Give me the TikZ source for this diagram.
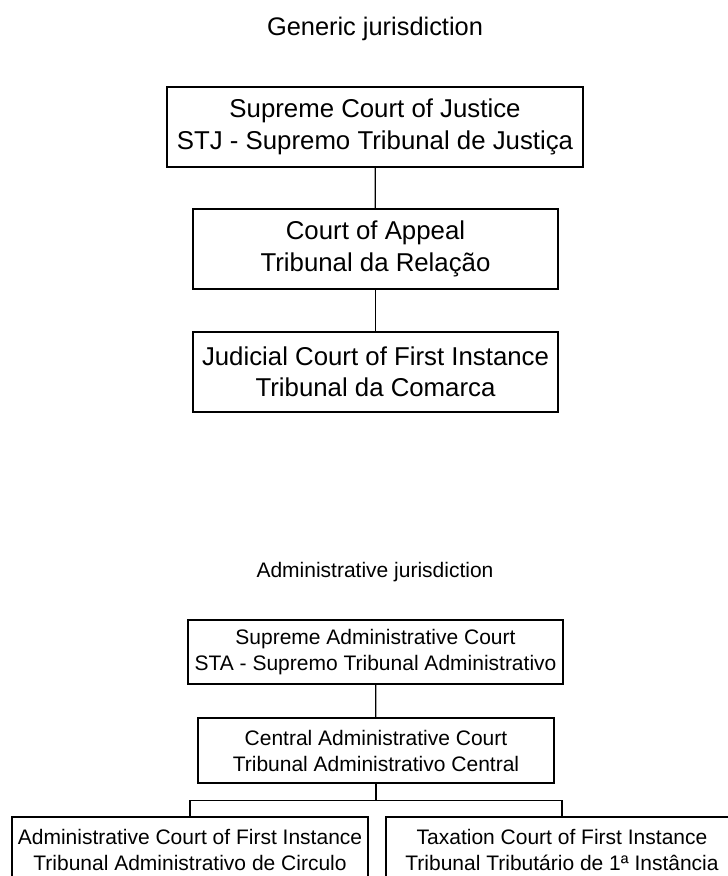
\documentclass[tikz,border=0pt]{standalone}
\usepackage{fontspec}
\setmainfont{Liberation Sans}
\usetikzlibrary{positioning}

\tikzset{
  court/.style={draw, line width=1.2pt, align=center, inner sep=0pt,
    font=\fontsize{25.8}{31.5}\selectfont},
  admcourt/.style={draw, line width=1.2pt, align=center, inner sep=0pt,
    font=\fontsize{21}{26}\selectfont},
  link/.style={line width=1.2pt}
}

\begin{document}
\begin{tikzpicture}[x=1pt,y=-1pt]
    \useasboundingbox (0,0) rectangle (728,876);

    % Generic jurisdiction
    \node[anchor=base, font=\fontsize{25.4}{30}\selectfont] (gentitle) at (375,35) {Generic jurisdiction};

    \node[court, minimum width=416pt, minimum height=80pt] (stj) at (375,127)
        {Supreme Court of Justice\\STJ - Supremo Tribunal de Justiça};
    \node[court, minimum width=365pt, minimum height=80pt] (rel) at (375.5,249)
        {Court of Appeal\\Tribunal da Relação};
    \node[court, minimum width=365pt, minimum height=80pt] (com) at (375.5,372)
        {Judicial Court of First Instance\\Tribunal da Comarca};

    \draw[link] (stj) -- (rel);
    \draw[link] (rel) -- (com);

    % Administrative jurisdiction
    \node[anchor=base, font=\fontsize{21}{26}\selectfont] (admtitle) at (375,577) {Administrative jurisdiction};

    \node[admcourt, minimum width=375pt, minimum height=64pt] (sta) at (375.5,652)
        {Supreme Administrative Court\\STA - Supremo Tribunal Administrativo};
    \node[admcourt, minimum width=356pt, minimum height=65pt] (tca) at (376,750.5)
        {Central Administrative Court\\Tribunal Administrativo Central};
    \node[admcourt, minimum width=356pt, minimum height=65pt] (tac) at (190,849.5)
        {Administrative Court of First Instance\\Tribunal Administrativo de Circulo};
    \node[admcourt, minimum width=352pt, minimum height=65pt] (tt) at (562,849.5)
        {Taxation Court of First Instance\\Tribunal Tributário de 1ª Instância};

    \draw[link] (sta) -- (tca);
    \coordinate[below=17pt of tca.south] (fork);
    \draw[link] (tca.south) -- (fork) -| (tac.north);
    \draw[link] (fork) -| (tt.north);

\end{tikzpicture}
\end{document}
